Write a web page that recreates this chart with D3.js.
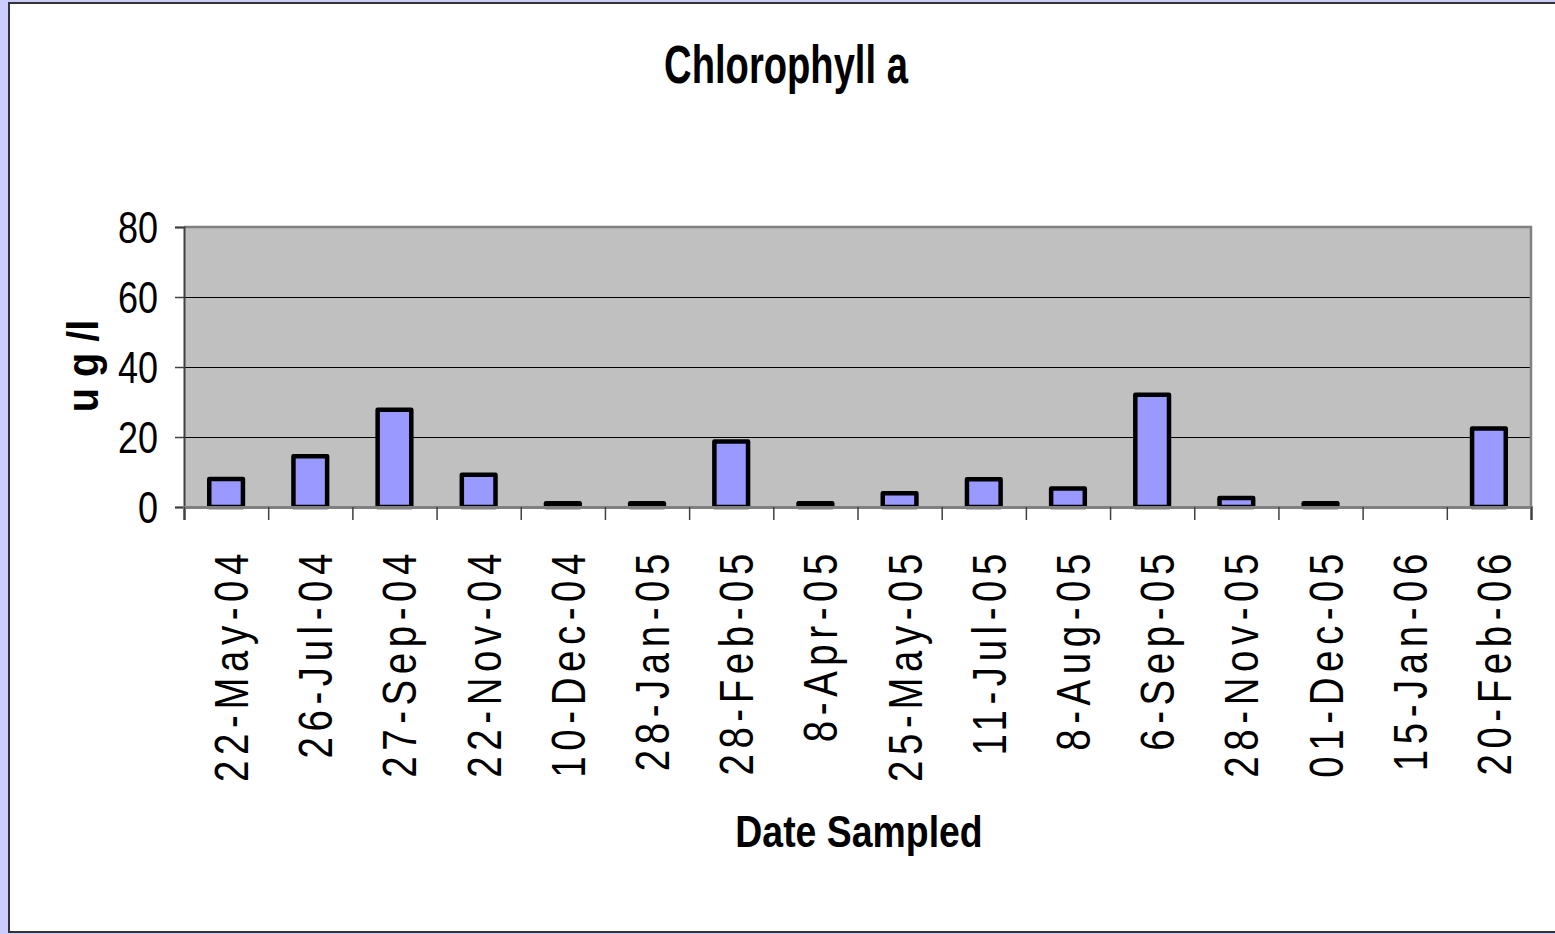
<!DOCTYPE html>
<html>
<head>
<meta charset="utf-8">
<script src="https://cdn.jsdelivr.net/npm/d3@7"></script>
<style>
    html, body { margin: 0; padding: 0; background: #ccccff; overflow: hidden; }
    svg { display: block; }
</style>
</head>
<body>
<svg id="chart"></svg>
<script>
// Sample dates (categories) and chlorophyll a values in ug/l
const dates = ["22-May-04", "26-Jul-04", "27-Sep-04", "22-Nov-04", "10-Dec-04", "28-Jan-05",
    "28-Feb-05", "8-Apr-05", "25-May-05", "11-Jul-05", "8-Aug-05", "6-Sep-05",
    "28-Nov-05", "01-Dec-05", "15-Jan-06", "20-Feb-06"];
const chlorophyll = [8, 14.5, 27.8, 9.2, 1.1, 1.1, 18.7, 1.1, 3.9, 7.9, 5.3, 32.1, 2.6, 1.1, null, 22.4];
const yTicks = [0, 20, 40, 60, 80];

const width = 1555;
const height = 934;
const fontFamily = '"Liberation Sans", Arial, Helvetica, sans-serif';

// plot area box (pixels)
const plot = { left: 184, right: 1531, top: 227, bottom: 507 };

const svg = d3.select('#chart')
    .attr('width', width)
    .attr('height', height);

// white chart area with dark frame (runs off the right edge)
svg.append('rect')
    .attr('x', 9)
    .attr('y', 3)
    .attr('width', 1600)
    .attr('height', 929)
    .attr('fill', '#fff')
    .attr('stroke', '#333')
    .attr('stroke-width', 2);

const x = d3.scaleBand()
    .domain(dates)
    .range([plot.left, plot.right])
    .paddingInner(0.6)
    .paddingOuter(0.3);

// boundaries between categories, for tick marks
const xEdge = d3.scaleLinear()
    .domain([0, dates.length])
    .range([plot.left, plot.right]);

const y = d3.scaleLinear()
    .domain([0, 80])
    .range([plot.bottom, plot.top]);

// plot area background
svg.append('rect')
    .attr('x', plot.left)
    .attr('y', plot.top)
    .attr('width', plot.right - plot.left)
    .attr('height', plot.bottom - plot.top)
    .attr('fill', '#c0c0c0');

// gridlines
svg.append('g')
    .selectAll('line')
    .data(yTicks.filter(d => d > 0 && d < 80))
    .enter()
    .append('line')
    .attr('x1', plot.left)
    .attr('x2', plot.right)
    .attr('y1', d => y(d) + 0.5)
    .attr('y2', d => y(d) + 0.5)
    .attr('stroke', '#000')
    .attr('stroke-width', 1);

// plot area border top / right
svg.append('path')
    .attr('d', `M${plot.left},${plot.top} H${plot.right} V${plot.bottom}`)
    .attr('fill', 'none')
    .attr('stroke', '#808080')
    .attr('stroke-width', 2.5);

// bars
svg.append('g')
    .selectAll('rect')
    .data(dates.map((d, i) => ({ date: d, value: chlorophyll[i] })).filter(d => d.value != null))
    .enter()
    .append('rect')
    .attr('x', d => x(d.date))
    .attr('y', d => y(d.value))
    .attr('width', x.bandwidth())
    .attr('height', d => y(0) - y(d.value))
    .attr('fill', '#9999ff')
    .attr('stroke', '#000')
    .attr('stroke-width', 4.5)
    .attr('stroke-linejoin', 'round');

// y axis
const yAxis = svg.append('g')
    .attr('transform', `translate(${plot.left},0)`)
    .call(d3.axisLeft(y).tickValues(yTicks).tickSize(9).tickFormat(''));
yAxis.select('.domain').attr('stroke', '#404040').attr('stroke-width', 2);
yAxis.selectAll('.tick line').attr('stroke', '#404040').attr('stroke-width', 1.5);

svg.append('g')
    .selectAll('text')
    .data(yTicks)
    .enter()
    .append('text')
    .attr('transform', d => `translate(158,${y(d)}) scale(0.8,1)`)
    .attr('text-anchor', 'end')
    .attr('dy', '0.36em')
    .attr('font-family', fontFamily)
    .attr('font-size', 45)
    .attr('fill', '#000')
    .text(d => d);

// x axis with ticks between categories
const xAxis = svg.append('g')
    .attr('transform', `translate(0,${plot.bottom})`)
    .call(d3.axisBottom(xEdge).tickValues(d3.range(dates.length + 1)).tickSize(13).tickFormat(''));
xAxis.select('.domain').attr('stroke', '#808080').attr('stroke-width', 3);
xAxis.selectAll('.tick line').attr('stroke', '#404040').attr('stroke-width', 1.5);

// rotated date labels
svg.append('g')
    .selectAll('text')
    .data(dates)
    .enter()
    .append('text')
    .attr('transform', d => `translate(${x(d) + x.bandwidth() / 2 + 22},548) rotate(-90) scale(0.8,1)`)
    .attr('text-anchor', 'end')
    .attr('font-family', fontFamily)
    .attr('font-size', 48)
    .attr('letter-spacing', 7)
    .attr('fill', '#000')
    .text(d => d);

// title
svg.append('text')
    .attr('transform', 'translate(786,83) scale(0.72,1)')
    .attr('text-anchor', 'middle')
    .attr('font-family', fontFamily)
    .attr('font-size', 53)
    .attr('font-weight', 'bold')
    .attr('fill', '#000')
    .text('Chlorophyll a');

// x axis title
svg.append('text')
    .attr('transform', 'translate(859,847) scale(0.85,1)')
    .attr('text-anchor', 'middle')
    .attr('font-family', fontFamily)
    .attr('font-size', 44)
    .attr('font-weight', 'bold')
    .attr('fill', '#000')
    .text('Date Sampled');

// y axis title
svg.append('text')
    .attr('transform', 'translate(98,366) rotate(-90) scale(0.9,1)')
    .attr('text-anchor', 'middle')
    .attr('font-family', fontFamily)
    .attr('font-size', 44)
    .attr('font-weight', 'bold')
    .attr('fill', '#000')
    .text('u g /l');
</script>
</body>
</html>
